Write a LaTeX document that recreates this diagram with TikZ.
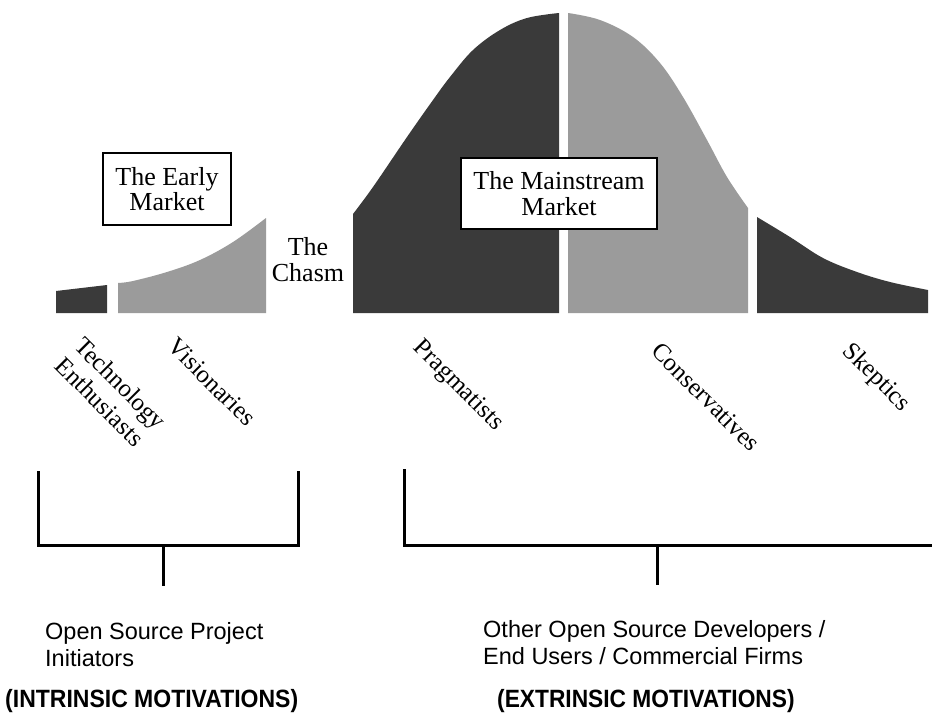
\documentclass[tikz,border=0pt]{standalone}
\usepackage{fontspec}
\usepackage{graphicx}
\setmainfont{Liberation Serif}
\newfontfamily\arialf{Liberation Sans}
\definecolor{darkfill}{RGB}{58,58,58}
\definecolor{lightfill}{RGB}{155,155,155}
\tikzset{
  darkpart/.style={fill=darkfill, draw=none},
  lightpart/.style={fill=lightfill, draw=none},
  marketbox/.style={draw=black, line width=1.8pt, fill=white, align=center, inner sep=0pt,
    font=\fontsize{26}{25.5}\selectfont},
  seriflabel/.style={align=center, inner sep=0pt, font=\fontsize{26}{26}\selectfont},
  rotlabel/.style={align=left, inner sep=0pt, rotate=-45, font=\fontsize{25}{28}\selectfont},
  bracketline/.style={draw=black, line width=3pt},
  sanslabel/.style={align=left, inner sep=0pt, anchor=north west, font=\arialf\fontsize{23.5}{27}\selectfont},
  boldlabel/.style={inner sep=0pt, anchor=base west, font=\arialf\bfseries\fontsize{25}{25}\selectfont}
}
\begin{document}
\begin{tikzpicture}[x=1pt,y=-1pt]
\useasboundingbox (0,0) rectangle (932,713);
\fill[white] (0,0) rectangle (932,713);
% curve segments
\path[darkpart] (56,313) -- (56,291) -- (107,285) -- (107,313) -- cycle;
\path[lightpart] (118,313) -- (118,283) -- plot[smooth, tension=0.6] coordinates {(118,283) (133,281) (167,272) (200,260) (233,242) (266,218)} -- (266,313) -- cycle;
\path[darkpart] (353,313) -- (353,214) -- plot[smooth, tension=0.6] coordinates {(353,214) (373,187) (407,137) (433,100) (450,77) (473,50) (500,30) (527,18) (559,13)} -- (559,313) -- cycle;
\path[lightpart] (568,313) -- (568,13) -- plot[smooth, tension=0.6] coordinates {(568,13) (600,20) (633,37) (660,63) (683,97) (707,140) (727,177) (748,208)} -- (748,313) -- cycle;
\path[darkpart] (757,313) -- (757,217) -- plot[smooth, tension=0.6] coordinates {(757,217) (790,237) (823,258) (857,272) (890,282) (928,290)} -- (928,313) -- cycle;
% boxes and labels
\node[marketbox, minimum width=128pt, minimum height=72pt] (early) at (167,189) {The Early\\Market};
\node[marketbox, minimum width=196pt, minimum height=71pt] (main) at (559,193.5) {The Mainstream\\Market};
\node[seriflabel] (chasm) at (308,260) {The\\Chasm};
\node[rotlabel] (tech) at (111,393) {Technology\\Enthusiasts};
\node[rotlabel] (vis) at (212,382) {Visionaries};
\node[rotlabel] (prag) at (458,386) {Pragmatists};
\node[rotlabel] (cons) at (706,397) {Conservatives};
\node[rotlabel] (skep) at (876,378) {Skeptics};
% brackets
\coordinate (lbtl) at (38,471);
\coordinate (lbbl) at (38,545);
\coordinate (lbbr) at (298,545);
\coordinate (lbtr) at (298,471);
\coordinate (lstemtop) at (163,545);
\coordinate (lstembot) at (163,586);
\coordinate (rbl) at (404,469);
\coordinate (rbr) at (934,545);
\coordinate (rstemtop) at (657,545);
\coordinate (rstembot) at (657,585);
\draw[bracketline] (lbtl) -- (lbbl) -- (lbbr) -- (lbtr);
\draw[bracketline] (lstemtop) -- (lstembot);
\draw[bracketline] (rbl) |- (rbr);
\draw[bracketline] (rstemtop) -- (rstembot);
% bottom texts
\node[sanslabel] (initiators) at (45,622) {Open Source Project\\Initiators};
\node[sanslabel] (others) at (483,620) {Other Open Source Developers /\\End Users / Commercial Firms};
\node[boldlabel] (intr) at (5,707) {\scalebox{0.92}[1]{(INTRINSIC MOTIVATIONS)}};
\node[boldlabel] (extr) at (497,707) {\scalebox{0.91}[1]{(EXTRINSIC MOTIVATIONS)}};
\end{tikzpicture}
\end{document}
